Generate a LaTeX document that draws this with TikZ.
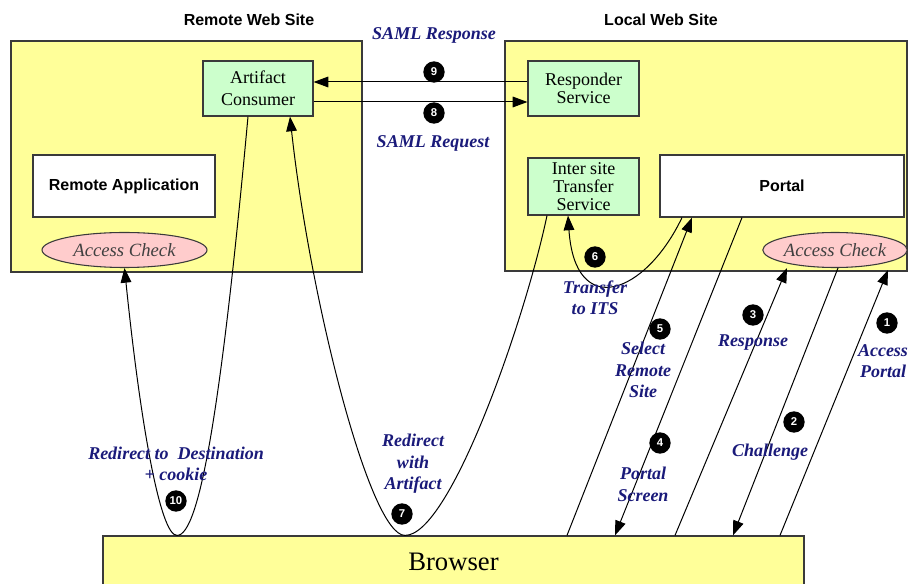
\documentclass[tikz,border=0pt]{standalone}
\usepackage{fontspec}
\setmainfont{Liberation Serif}
\setsansfont{Liberation Sans}
\usetikzlibrary{arrows.meta,calc,shapes.geometric}
\definecolor{siteyellow}{HTML}{FFFF99}
\definecolor{svcgreen}{HTML}{CCFFCC}
\definecolor{chkpink}{HTML}{FFCCCC}
\definecolor{navyink}{HTML}{1A1A7A}
\definecolor{edgegray}{HTML}{3A3A3A}
\definecolor{chkink}{HTML}{404040}
\begin{document}
\begin{tikzpicture}[x=0.75pt,y=-0.75pt,
  site/.style={draw=edgegray,line width=0.9pt,fill=siteyellow,inner sep=0pt},
  svc/.style={draw=edgegray,line width=0.9pt,fill=svcgreen,inner sep=0pt,align=center},
  app/.style={draw=edgegray,line width=0.9pt,fill=white,inner sep=0pt,font=\sffamily\bfseries\fontsize{12}{14}\selectfont},
  chk/.style={ellipse,draw=edgegray,line width=0.8pt,fill=chkpink,inner sep=0pt,font=\itshape\fontsize{14}{15}\selectfont,text=chkink},
  sitetitle/.style={font=\sffamily\bfseries\fontsize{12}{14}\selectfont,inner sep=0pt},
  lbl/.style={font=\bfseries\itshape\fontsize{13.5}{16}\selectfont,text=navyink,align=center,inner sep=0pt},
  badge/.style={circle,fill=black,text=white,inner sep=0pt,minimum size=16pt,font=\sffamily\bfseries\fontsize{8.5}{8.5}\selectfont},
  flow/.style={line width=0.75pt,-{Triangle[length=11pt,width=8pt]}},
  plainline/.style={line width=0.75pt}]
\useasboundingbox (0,0) rectangle (908,584);

% site boxes
\node[site,minimum width=351*0.75pt,minimum height=231*0.75pt] (remote) at (186.5,156.5) {};
\node[site,minimum width=402*0.75pt,minimum height=230*0.75pt] (local) at (706,156) {};
\node[site,minimum width=701*0.75pt,minimum height=52*0.75pt,font=\fontsize{20}{24}\selectfont] (br) at (453.5,562) {Browser};

\node[sitetitle] (rtitle) at (249,20) {Remote Web Site};
\node[sitetitle] (ltitle) at (661,20) {Local Web Site};

% services
\node[svc,minimum width=110*0.75pt,minimum height=55*0.75pt,font=\fontsize{13.5}{16.5}\selectfont] (ac) at (258,88.5) {Artifact\\Consumer};
\node[svc,minimum width=111*0.75pt,minimum height=55*0.75pt,font=\fontsize{13.5}{13}\selectfont] (rs) at (583.5,88.5) {Responder\\Service};
\node[svc,minimum width=111*0.75pt,minimum height=57*0.75pt,font=\fontsize{13.5}{13.5}\selectfont] (its) at (583.5,186.5) {Inter site\\Transfer\\Service};
\node[app,minimum width=182*0.75pt,minimum height=62*0.75pt] (rapp) at (124,186) {Remote Application};
\node[app,minimum width=244*0.75pt,minimum height=62*0.75pt] (portal) at (782,186) {Portal};
\node[chk,minimum width=165*0.75pt,minimum height=35*0.75pt] (rac) at (124.5,250) {Access Check};
\node[chk,minimum width=144*0.75pt,minimum height=35*0.75pt] (lac) at (835,250) {Access Check};

% SAML exchange
\draw[flow] ($(rs.west)+(0,-6.5)$) -- ($(ac.east)+(0,-6.5)$);
\draw[flow] ($(ac.east)+(0,13.5)$) -- ($(rs.west)+(0,13.5)$);

% redirect to destination (10)
\draw[flow] ($(ac.south)+(-10,0)$) .. controls (222,400) and (200,536) .. ($(br.north)+(-276.5,0)$)
  .. controls (160,536) and (140,420) .. (rac.south);
% redirect with artifact (7)
\draw[flow] ($(its.south)+(-36.5,0)$) .. controls (525,320) and (450,536) .. ($(br.north)+(-48.5,0)$)
  .. controls (370,536) and (310,300) .. ($(ac.south)+(32,0)$);
% transfer to ITS (6)
\draw[flow] ($(portal.south)+(-100,0)$) .. controls (645,295) and (575,320) .. ($(its.south)+(-15.5,0)$);
% select remote site (5)
\draw[flow] ($(br.north)+(113.5,0)$) -- ($(portal.south)+(-90,0)$);
% portal screen (4)
\draw[flow] ($(portal.south)+(-40,0)$) -- ($(br.north)+(161.5,0)$);
% response (3)
\draw[flow] ($(br.north)+(221.5,0)$) -- ($(lac.south)+(-48,0)$);
% challenge (2)
\draw[flow] ($(lac.south)+(3,0)$) -- ($(br.north)+(279.5,0)$);
% access portal (1)
\draw[flow] ($(br.north)+(326.5,0)$) -- ($(lac.south)+(53,2)$);

% labels
\node[lbl] (lsresp) at (434,35) {SAML Response};
\node[lbl] (lsreq) at (433,143) {SAML Request};
\node[lbl] (ltrans) at (595,297.5) {Transfer\\to ITS};
\node[lbl] (lselect) at (643,370) {Select\\Remote\\Site};
\node[lbl] (lpscreen) at (643,484.5) {Portal\\Screen};
\node[lbl] (lresp) at (753,343) {Response};
\node[lbl] (lchal) at (770,452) {Challenge};
\node[lbl] (laccp) at (883,361) {Access\\Portal};
\node[lbl] (lredir10) at (176,464) {Redirect to~ Destination\\+ cookie};
\node[lbl] (lredir7) at (413,464) {Redirect\\with\\Artifact};

% step badges
\node[badge] (b1) at (887,323) {1};
\node[badge] (b2) at (794,422) {2};
\node[badge] (b3) at (753,315) {3};
\node[badge] (b4) at (660,443) {4};
\node[badge] (b5) at (660,329) {5};
\node[badge] (b6) at (595,257) {6};
\node[badge] (b7) at (402,514) {7};
\node[badge] (b8) at (434,113) {8};
\node[badge] (b9) at (434,72) {9};
\node[badge] (b10) at (176,501) {10};
\end{tikzpicture}
\end{document}
